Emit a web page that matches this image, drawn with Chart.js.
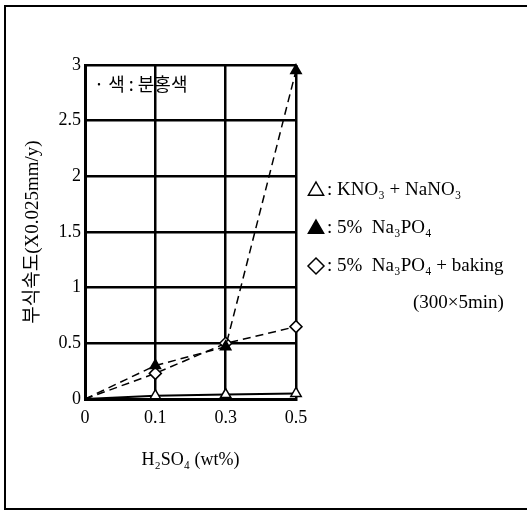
<!DOCTYPE html>
<html>
<head>
<meta charset="utf-8">
<script src="https://cdn.jsdelivr.net/npm/chart.js@4"></script>
<style>
  body { margin: 0; background: #fff; }
</style>
</head>
<body>
<canvas id="chart" width="527" height="511"></canvas>
<script>
// H2SO4 농도 (wt%)
const categories = ['0', '0.1', '0.3', '0.5'];
const yTicks = [0, 0.5, 1, 1.5, 2, 2.5, 3];

// 부식속도 (X0.025mm/y)
const kno3 = [0, 0.03, 0.04, 0.05];
const na3po4 = [0, 0.3, 0.47, 2.95];
const baking = [0, 0.23, 0.5, 0.65];

const seriesLabels = [': KNO₃ + NaNO₃', ': 5%  Na₃PO₄', ': 5%  Na₃PO₄ + baking'];
const note = '· 색 : 분홍색';
const bakingNote = '(300×5min)';

const serif = "'Liberation Serif', 'DejaVu Serif', serif";
const kr = "'Noto Sans CJK KR', sans-serif";

function marker(ctx, style, fill, x, y, r) {
    ctx.save();
    ctx.beginPath();
    if (style === 'triangle') {
        ctx.moveTo(x, y - r);
        ctx.lineTo(x + r * 0.95, y + r * 0.65);
        ctx.lineTo(x - r * 0.95, y + r * 0.65);
    } else {
        ctx.moveTo(x, y - r);
        ctx.lineTo(x + r, y);
        ctx.lineTo(x, y + r);
        ctx.lineTo(x - r, y);
    }
    ctx.closePath();
    ctx.fillStyle = fill;
    ctx.fill();
    ctx.lineWidth = 1.5;
    ctx.strokeStyle = '#000';
    ctx.stroke();
    ctx.restore();
}

const framePlugin = {
    id: 'frame',
    beforeDraw(chart) {
        const ctx = chart.ctx;
        ctx.save();
        ctx.fillStyle = '#fff';
        ctx.fillRect(0, 0, chart.width, chart.height);
        ctx.strokeStyle = '#000';
        ctx.lineWidth = 2;
        ctx.strokeRect(5, 6, 540, 503);
        ctx.restore();
    },
    afterDraw(chart) {
        const ctx = chart.ctx;
        ctx.save();
        // 색 주석
        ctx.fillStyle = '#000';
        ctx.font = '18px ' + kr;
        ctx.textBaseline = 'middle';
        ctx.fillText(note, 94, 84);

        // 범례
        const rows = [
            { style: 'triangle', fill: '#fff', y: 190 },
            { style: 'triangle', fill: '#000', y: 228 },
            { style: 'diamond', fill: '#fff', y: 266 }
        ];
        ctx.font = '19px ' + serif;
        rows.forEach((row, i) => {
            marker(ctx, row.style, row.fill, 316, row.y, 8);
            ctx.fillStyle = '#000';
            ctx.fillText(seriesLabels[i], 327, row.y);
        });
        ctx.fillText(bakingNote, 413, 303);
        ctx.restore();
    }
};

new Chart(document.getElementById('chart'), {
    type: 'line',
    data: {
        labels: categories,
        datasets: [
            {
                label: seriesLabels[0],
                data: kno3,
                borderColor: '#000',
                borderWidth: 2,
                pointStyle: 'triangle',
                pointRadius: [0, 6, 6, 6],
                pointBackgroundColor: '#fff',
                pointBorderColor: '#000',
                pointBorderWidth: 1.5
            },
            {
                label: seriesLabels[1],
                data: na3po4,
                borderColor: '#000',
                borderWidth: 1.5,
                borderDash: [8, 5],
                pointStyle: 'triangle',
                pointRadius: [0, 6, 6, 6],
                pointBackgroundColor: '#000',
                pointBorderColor: '#000',
                pointBorderWidth: 1.5
            },
            {
                label: seriesLabels[2],
                data: baking,
                borderColor: '#000',
                borderWidth: 1.5,
                borderDash: [8, 5],
                pointStyle: 'rectRot',
                pointRadius: [0, 6, 6, 6],
                pointBackgroundColor: '#fff',
                pointBorderColor: '#000',
                pointBorderWidth: 1.5
            }
        ]
    },
    options: {
        responsive: false,
        animation: false,
        clip: false,
        layout: { padding: { left: 0, top: 65, right: 231, bottom: 0 } },
        plugins: {
            legend: { display: false },
            tooltip: { enabled: false }
        },
        scales: {
            x: {
                type: 'category',
                offset: false,
                afterFit: (scale) => { scale.height = 112; },
                grid: { color: '#000', lineWidth: 2.5, drawTicks: false },
                border: { color: '#000', width: 3 },
                ticks: {
                    color: '#000',
                    padding: 8,
                    maxRotation: 0,
                    font: { family: serif, size: 18 }
                },
                title: {
                    display: true,
                    text: 'H₂SO₄ (wt%)',
                    color: '#000',
                    padding: { top: 0, bottom: 40 },
                    font: { family: serif, size: 18 }
                }
            },
            y: {
                min: 0,
                max: 3,
                afterFit: (scale) => { scale.width = 85; },
                afterBuildTicks: (scale) => { scale.ticks = yTicks.map(v => ({ value: v })); },
                grid: { color: '#000', lineWidth: 2.5, drawTicks: false },
                border: { color: '#000', width: 3 },
                ticks: {
                    color: '#000',
                    padding: 4,
                    font: { family: serif, size: 18 },
                    callback: (v) => String(v)
                },
                title: {
                    display: true,
                    text: '부식속도(X0.025mm/y)',
                    color: '#000',
                    padding: { top: 22, bottom: 0 },
                    font: { family: serif + ", " + kr, size: 19 }
                }
            }
        }
    },
    plugins: [framePlugin]
});
</script>
</body>
</html>
